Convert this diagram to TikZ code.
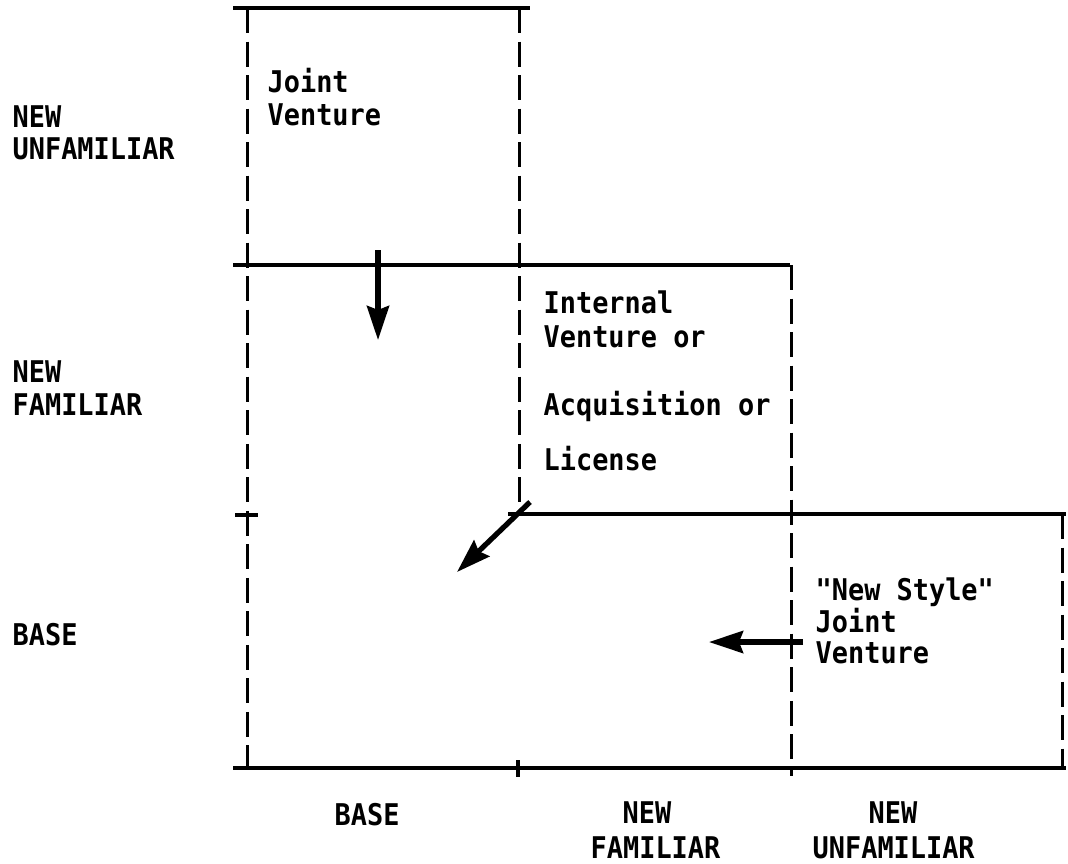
\documentclass[tikz,border=0pt]{standalone}
\usepackage{fontspec}
\newfontfamily\tw[FakeStretch=0.9]{DejaVu Sans Mono}
\usetikzlibrary{arrows.meta}
\begin{document}
\begin{tikzpicture}[x=0.01cm,y=-0.01cm,
  rule/.style={line width=0.9pt},
  border/.style={line width=0.85pt,dash pattern=on 0.25cm off 0.085cm},
  move/.style={line width=1.5pt,-{Stealth[length=0.34cm,width=0.22cm,inset=0.04cm]}},
  axis/.style={inner sep=0pt,anchor=base west,font=\tw\bfseries\fontsize{8.5pt}{10pt}\selectfont},
  cell/.style={inner sep=0pt,anchor=base west,font=\tw\bfseries\fontsize{8.5pt}{10pt}\selectfont}]
\useasboundingbox (0,0) rectangle (1068,863);

% solid horizontal rules
\draw[rule] (233,8) -- (530,8);
\draw[rule] (233,265) -- (790,265);
\draw[rule] (235,515) -- (258,515);
\draw[rule] (508,514) -- (1066,514);
\draw[rule] (233,768) -- (1066,768);

% dashed column borders
\draw[border] (247,8) -- (247,768);
\draw[border] (519,8) -- (519,514);
\draw[border] (791,265) -- (791,776);
\draw[border] (1062,514) -- (1062,768);
\draw[rule] (518,760) -- (518,777);

% row labels
\node[axis] (rnu1) at (12,127) {NEW};
\node[axis] (rnu2) at (12,159) {UNFAMILIAR};
\node[axis] (rnf1) at (12,382) {NEW};
\node[axis] (rnf2) at (12,415) {FAMILIAR};
\node[axis] (rb)   at (12,645) {BASE};

% column labels
\node[axis] (cb)   at (334,825) {BASE};
\node[axis] (cnf1) at (622,823) {NEW};
\node[axis] (cnf2) at (590,858) {FAMILIAR};
\node[axis] (cnu1) at (868,823) {NEW};
\node[axis] (cnu2) at (812,858) {UNFAMILIAR};

% cell texts
\node[cell] (jv1) at (267,92)  {Joint};
\node[cell] (jv2) at (267,125) {Venture};
\node[cell] (iv1) at (543,313) {Internal};
\node[cell] (iv2) at (543,347) {Venture or};
\node[cell] (iv3) at (543,415) {Acquisition or};
\node[cell] (iv4) at (543,470) {License};
\node[cell] (ns1) at (815,600) {"New Style"};
\node[cell] (ns2) at (815,632) {Joint};
\node[cell] (ns3) at (815,663) {Venture};

% movement arrows
\coordinate (a1s) at (378,250);
\coordinate (a1e) at (378,340);
\coordinate (a2s) at (530,502);
\coordinate (a2e) at (457,572);
\coordinate (a3s) at (803,642);
\coordinate (a3e) at (709,642);
\draw[move] (a1s) -- (a1e);
\draw[move] (a2s) -- (a2e);
\draw[move] (a3s) -- (a3e);
\end{tikzpicture}
\end{document}
